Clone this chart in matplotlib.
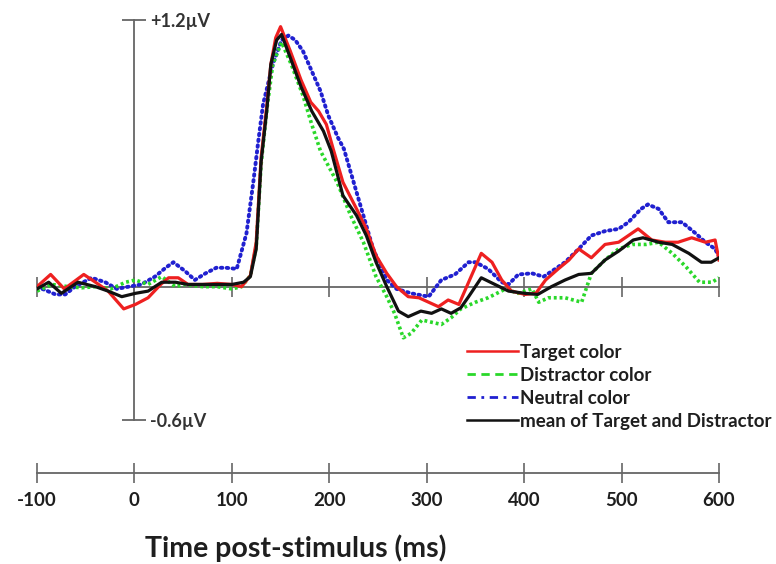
import matplotlib
matplotlib.use("Agg")
import matplotlib.pyplot as plt
from matplotlib.lines import Line2D

plt.rcParams['font.family'] = ['Lato', 'DejaVu Sans']

# ---- data (time in ms, amplitude in µV) ----
t_target = [-100, -86, -72, -52, -40, -27, -11, 1, 14, 27, 35, 45, 55, 70, 85, 100, 110,
            119, 125, 130, 136, 140, 145, 150, 160, 171, 181, 189, 197, 204, 214, 228, 238,
            248, 259, 269, 281, 292, 302, 312, 322, 333, 343, 356, 367, 377, 387, 401, 412,
            422, 435, 446, 456, 469, 483, 497, 517, 531, 545, 558, 572, 586, 596, 600]
v_target = [0, 0.055, -0.01, 0.055, 0.02, -0.02, -0.10, -0.08, -0.05, 0.01, 0.04, 0.04, 0.01,
            0.01, 0.015, 0.01, 0.0, 0.05, 0.2, 0.58, 0.82, 1.0, 1.12, 1.17, 1.06, 0.93, 0.83,
            0.79, 0.73, 0.62, 0.47, 0.35, 0.26, 0.14, 0.06, 0.0, -0.045, -0.05, -0.07, -0.09,
            -0.06, -0.08, 0.02, 0.15, 0.11, 0.03, -0.02, -0.035, -0.03, 0.03, 0.08, 0.12, 0.17,
            0.13, 0.19, 0.2, 0.26, 0.21, 0.2, 0.2, 0.22, 0.2, 0.21, 0.12]

t_distr = [-100, -85, -68, -54, -40, -24, -9, 1, 14, 28, 42, 51, 70, 85, 100, 110, 119, 125,
           130, 136, 142, 151, 161, 173, 182, 191, 208, 222, 235, 248, 259, 267, 276, 284, 295,
           305, 315, 325, 335, 350, 363, 381, 394, 408, 415, 425, 442, 459, 469, 483, 497, 511,
           525, 538, 552, 566, 580, 593, 600]
v_distr = [-0.02, 0.01, 0, -0.005, 0, -0.01, 0.02, 0.03, 0.01, 0.045, 0, 0.01, 0, 0, -0.01, 0,
           0.05, 0.18, 0.55, 0.8, 1.0, 1.10, 1.0, 0.86, 0.73, 0.61, 0.47, 0.32, 0.2, 0.045,
           -0.045, -0.12, -0.23, -0.21, -0.15, -0.16, -0.17, -0.14, -0.1, -0.07, -0.05, -0.01,
           -0.03, -0.01, -0.07, -0.05, -0.05, -0.07, 0.06, 0.12, 0.17, 0.19, 0.19, 0.2, 0.15,
           0.09, 0.02, 0.02, 0.04]

t_neutral = [-100, -81, -71, -61, -44, -30, -18, -6, 7, 21, 32, 40, 52, 62, 73, 84, 94, 105,
             115, 122, 127, 132, 142, 151, 158, 165, 173, 182, 191, 199, 209, 215, 225, 235,
             245, 259, 269, 284, 302, 315, 329, 343, 350, 363, 377, 384, 394, 408, 420, 432,
             442, 456, 469, 483, 497, 507, 520, 527, 538, 548, 562, 576, 586, 596, 600]
v_neutral = [0, -0.035, -0.035, 0, 0.04, 0.02, -0.01, 0, 0.01, 0.045, 0.085, 0.11, 0.07, 0.03,
             0.06, 0.085, 0.085, 0.08, 0.24, 0.47, 0.65, 0.82, 1.0, 1.11, 1.13, 1.11, 1.06,
             0.97, 0.88, 0.77, 0.67, 0.62, 0.47, 0.32, 0.17, 0.03, -0.01, -0.03, -0.045, 0.03,
             0.055, 0.11, 0.11, 0.08, 0.02, 0.01, 0.055, 0.06, 0.045, 0.08, 0.11, 0.17, 0.23,
             0.25, 0.26, 0.29, 0.35, 0.37, 0.35, 0.29, 0.29, 0.24, 0.2, 0.17, 0.135]

t_mean = [-100, -88, -75, -58, -40, -27, -13, 1, 14, 28, 42, 55, 80, 100, 112, 119, 125, 130,
          136, 140, 146, 151, 160, 171, 182, 194, 202, 214, 228, 238, 248, 259, 271, 281, 294,
          305, 315, 325, 335, 343, 356, 370, 384, 401, 414, 428, 442, 456, 469, 483, 497, 512,
          522, 538, 552, 569, 582, 592, 600]
v_mean = [-0.01, 0.02, -0.03, 0.02, 0, -0.02, -0.045, -0.03, -0.02, 0.02, 0.02, 0.01, 0.01,
          0.01, 0.02, 0.045, 0.17, 0.56, 0.8, 1.0, 1.11, 1.135, 1.03, 0.9, 0.79, 0.7, 0.61,
          0.41, 0.32, 0.23, 0.11, 0.0, -0.11, -0.135, -0.11, -0.12, -0.1, -0.12, -0.095, -0.045,
          0.04, 0.01, -0.02, -0.03, -0.035, 0, 0.03, 0.055, 0.06, 0.12, 0.16, 0.21, 0.22, 0.2,
          0.19, 0.15, 0.11, 0.11, 0.13]

time_ticks = [-100, 0, 100, 200, 300, 400, 500, 600]
volt_ticks = [-0.6, 1.2]
volt_labels = ['-0.6µV', '+1.2µV']
legend_labels = ['Target color', 'Distractor color', 'Neutral color',
                 'mean of Target and Distractor']

RED, GREEN, BLUE, BLACK = '#ee2020', '#2ad82a', '#2020d0', '#111111'
AXC = '#666666'
TXT = '#1e1e1e'

W, H = 776, 564
fig = plt.figure(figsize=(W / 100, H / 100), dpi=100)

# main waveform axes: x -100..600 -> px 37..719, y -0.6..1.2 -> px 420..20
ax = fig.add_axes([37 / W, (H - 420) / H, 682 / W, 400 / H])
ax.set_xlim(-100, 600)
ax.set_ylim(-0.6, 1.2)

ax.plot(t_neutral, v_neutral, color=BLUE, lw=2.8, ls=(0, (0.4, 1.1)),
        dash_capstyle='round', zorder=3)
ax.plot(t_distr, v_distr, color=GREEN, lw=2.6, ls=(0, (0.8, 0.8)), zorder=3)
ax.plot(t_target, v_target, color=RED, lw=2.3, zorder=4, solid_joinstyle='round')
ax.plot(t_mean, v_mean, color=BLACK, lw=2.3, zorder=5, solid_joinstyle='round')

for s in ['top', 'left']:
    ax.spines[s].set_visible(False)
ax.spines['bottom'].set_position(('data', 0))
ax.spines['right'].set_position(('data', 0))
for s in ['bottom', 'right']:
    ax.spines[s].set_color(AXC)
    ax.spines[s].set_linewidth(1.3)
    ax.spines[s].set_zorder(1)

ax.set_xticks(time_ticks)
ax.set_xticklabels([])
ax.tick_params(axis='x', direction='inout', length=14, width=1.2, color=AXC)
ax.yaxis.set_ticks_position('right')
ax.set_yticks(volt_ticks)
ax.set_yticklabels(volt_labels)
ax.tick_params(axis='y', direction='inout', length=17, width=1.3, color=AXC,
               pad=3, labelsize=13, labelcolor='#333333')
for lab in ax.get_yticklabels():
    lab.set_fontweight('bold')

handles = [Line2D([], [], color=RED, lw=1.8),
           Line2D([], [], color=GREEN, lw=2.0, ls=(0, (3, 2))),
           Line2D([], [], color=BLUE, lw=2.0, ls=(0, (3, 2, 1, 2))),
           Line2D([], [], color=BLACK, lw=1.8)]
leg = fig.legend(handles, legend_labels, loc='upper left',
                 bbox_to_anchor=(467 / W, 1 - 344 / H), bbox_transform=fig.transFigure,
                 frameon=False, fontsize=13.5, handlelength=2.7, handletextpad=0.12,
                 labelspacing=0.32, borderpad=0, borderaxespad=0)
for txt in leg.get_texts():
    txt.set_fontweight('bold')
    txt.set_color(TXT)

# separate time axis below
ax2 = fig.add_axes([37 / W, (H - 473) / H, 682 / W, 0.001])
ax2.set_xlim(-100, 600)
ax2.set_yticks([])
for s in ['top', 'left', 'right']:
    ax2.spines[s].set_visible(False)
ax2.spines['bottom'].set_color(AXC)
ax2.spines['bottom'].set_linewidth(1.3)
ax2.set_xticks(time_ticks)
ax2.set_xticklabels([str(v) for v in time_ticks])
ax2.tick_params(axis='x', direction='inout', length=14, width=1.2, color=AXC,
                pad=7, labelsize=13.5, labelcolor=TXT)
for lab in ax2.get_xticklabels():
    lab.set_fontweight('bold')
ax2.patch.set_visible(False)

fig.text(296 / W, 1 - 548 / H, 'Time post-stimulus (ms)', ha='center', va='center',
         fontsize=20.5, fontweight='bold', color=TXT)

fig.savefig('out.png', dpi=100)
